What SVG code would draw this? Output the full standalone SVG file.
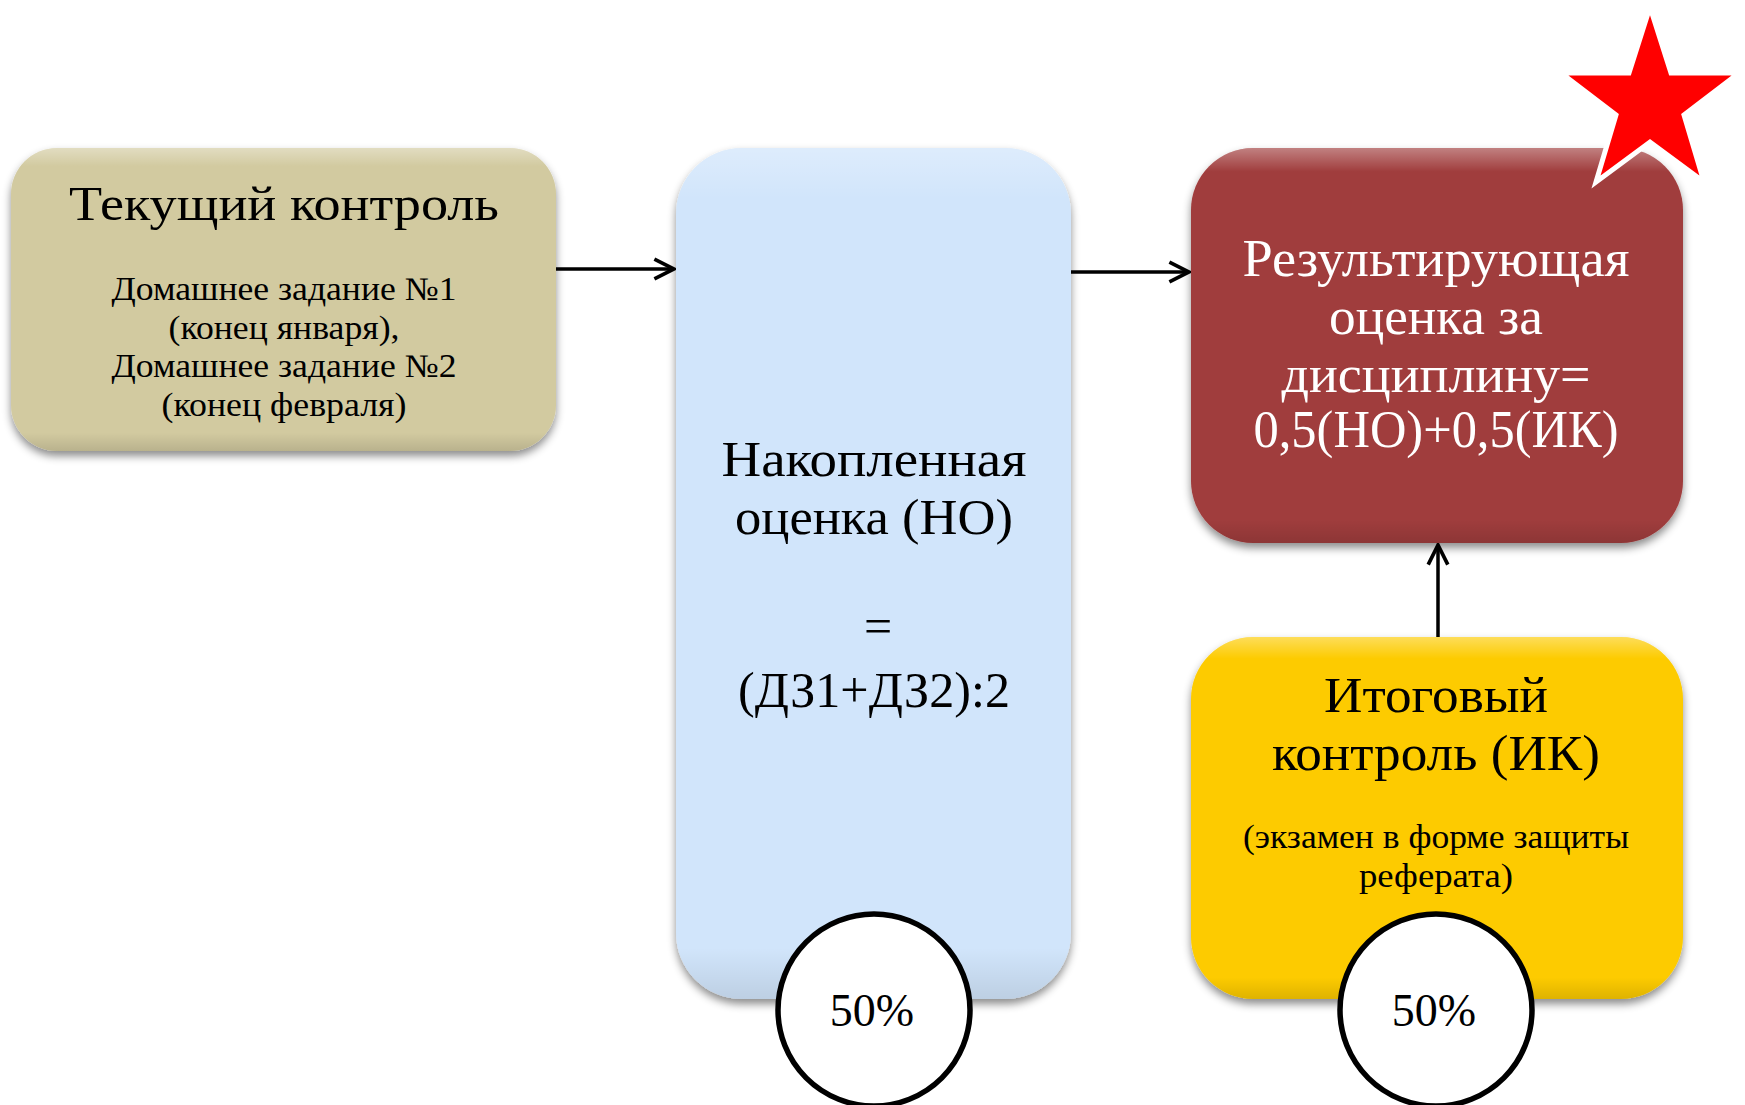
<svg xmlns="http://www.w3.org/2000/svg" width="1745" height="1105" viewBox="0 0 1745 1105">
<style>
.t{font-family:"Liberation Serif","DejaVu Serif",serif;text-anchor:middle;fill:#000}
.w{fill:#fff}
.conn{stroke:#000;stroke-width:3.5;fill:none}
.circ{fill:#fff;stroke:#000;stroke-width:5.5}
</style>
<defs>
<filter id="sh" x="-10%" y="-10%" width="120%" height="125%">
<feDropShadow dx="0" dy="5" stdDeviation="4" flood-color="#000" flood-opacity="0.45"/>
</filter>
<linearGradient id="hl" x1="0" y1="0" x2="0" y2="1">
<stop offset="0" stop-color="#fff" stop-opacity="0.35"/>
<stop offset="0.06" stop-color="#fff" stop-opacity="0"/>
<stop offset="0.94" stop-color="#000" stop-opacity="0"/>
<stop offset="1" stop-color="#000" stop-opacity="0.12"/>
</linearGradient>
<marker id="arr" viewBox="0 0 20 20" refX="18" refY="10" markerWidth="7" markerHeight="7" markerUnits="strokeWidth" orient="auto">
<path d="M2,2 L18,10 L2,18" fill="none" stroke="#000" stroke-width="3"/>
</marker>
</defs>
<g id="connectors">
<line class="conn" x1="556" y1="269" x2="674" y2="269" marker-end="url(#arr)"/>
<line class="conn" x1="1071" y1="272" x2="1189" y2="272" marker-end="url(#arr)"/>
<line class="conn" x1="1438" y1="646" x2="1438" y2="545" marker-end="url(#arr)"/>
</g>
<g id="tekushchiy">
<rect x="11" y="148" width="545" height="303" rx="46" fill="#D2CAA0" filter="url(#sh)"/>
<rect x="11" y="148" width="545" height="303" rx="46" fill="url(#hl)"/>
<text class="t" x="284" y="220" font-size="49" textLength="430" lengthAdjust="spacingAndGlyphs">Текущий контроль</text>
<text class="t" x="284" y="300" font-size="33" textLength="345" lengthAdjust="spacingAndGlyphs">Домашнее задание №1</text>
<text class="t" x="284" y="339" font-size="33" textLength="231" lengthAdjust="spacingAndGlyphs">(конец января),</text>
<text class="t" x="284" y="377" font-size="33" textLength="345" lengthAdjust="spacingAndGlyphs">Домашнее задание №2</text>
<text class="t" x="284" y="416" font-size="33" textLength="245" lengthAdjust="spacingAndGlyphs">(конец февраля)</text>
</g>
<g id="nakoplennaya">
<rect x="676" y="148" width="395" height="851" rx="66" fill="#D1E5FB" filter="url(#sh)"/>
<rect x="676" y="148" width="395" height="851" rx="66" fill="url(#hl)" opacity="0.8"/>
<text class="t" x="874" y="476" font-size="50" textLength="305" lengthAdjust="spacingAndGlyphs">Накопленная</text>
<text class="t" x="874" y="534" font-size="50" textLength="278" lengthAdjust="spacingAndGlyphs">оценка (НО)</text>
<text class="t" x="878" y="643" font-size="50">=</text>
<text class="t" x="874" y="707" font-size="50" textLength="272" lengthAdjust="spacingAndGlyphs">(ДЗ1+ДЗ2):2</text>
</g>
<g id="rezultiruyushchaya">
<rect x="1191" y="148" width="492" height="395" rx="62" fill="#A03C3C" filter="url(#sh)"/>
<rect x="1191" y="148" width="492" height="395" rx="62" fill="url(#hl)"/>
<text class="t w" x="1436" y="276" font-size="52" textLength="387" lengthAdjust="spacingAndGlyphs">Результирующая</text>
<text class="t w" x="1436" y="334" font-size="52" textLength="214" lengthAdjust="spacingAndGlyphs">оценка за</text>
<text class="t w" x="1436" y="392" font-size="52" textLength="309" lengthAdjust="spacingAndGlyphs">дисциплину=</text>
<text class="t w" x="1436" y="447" font-size="52" textLength="365" lengthAdjust="spacingAndGlyphs">0,5(НО)+0,5(ИК)</text>
</g>
<g id="itogovyy">
<rect x="1191" y="637" width="492" height="362" rx="62" fill="#FDCB05" filter="url(#sh)"/>
<rect x="1191" y="637" width="492" height="362" rx="62" fill="url(#hl)"/>
<text class="t" x="1436" y="712" font-size="50" textLength="224" lengthAdjust="spacingAndGlyphs">Итоговый</text>
<text class="t" x="1436" y="770" font-size="50" textLength="328" lengthAdjust="spacingAndGlyphs">контроль (ИК)</text>
<text class="t" x="1436" y="848" font-size="33" textLength="386" lengthAdjust="spacingAndGlyphs">(экзамен в форме защиты</text>
<text class="t" x="1436" y="887" font-size="33" textLength="154" lengthAdjust="spacingAndGlyphs">реферата)</text>
</g>
<g id="star">
<polygon points="1650,7 1671,73 1739,73 1684,115 1704,182 1650,142 1596,182 1616,115 1561,73 1629,73" fill="#FF0000" stroke="#fff" stroke-width="5" stroke-linejoin="miter"/>
</g>
<g id="pct1">
<circle class="circ" cx="874" cy="1010" r="96"/>
<text class="t" x="872" y="1026" font-size="46">50%</text>
</g>
<g id="pct2">
<circle class="circ" cx="1436" cy="1010" r="96"/>
<text class="t" x="1434" y="1026" font-size="46">50%</text>
</g>
</svg>
